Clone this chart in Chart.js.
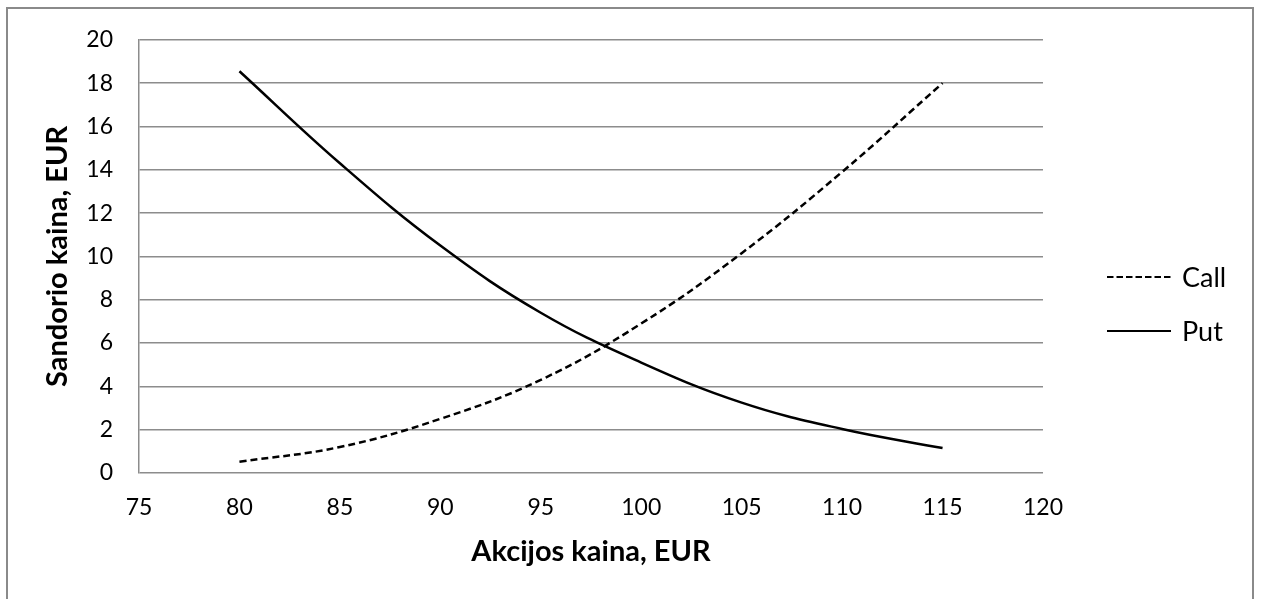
<!DOCTYPE html>
<html>
<head>
<meta charset="utf-8">
<script src="https://cdn.jsdelivr.net/npm/chart.js@4/dist/chart.umd.min.js"></script>
<style>
  html, body { margin: 0; padding: 0; background: #fff; overflow: hidden; }
  #frame {
    position: absolute; left: 6px; top: 7px; width: 1248px; height: 700px;
    border: 2px solid #8a8a8a; box-sizing: border-box;
  }
  #wrap { position: absolute; left: 0; top: 0; width: 1262px; height: 599px; }
</style>
</head>
<body>
<div id="frame"></div>
<div id="wrap"><canvas id="c" width="1262" height="599"></canvas></div>
<script>
// Stock price (EUR) and option prices (EUR)
const stockPrices = [80, 85, 90, 95, 100, 105, 110, 115];
const callPrices  = [0.52, 1.2, 2.5, 4.3, 6.9, 10.15, 13.9, 18.0];
const putPrices   = [18.55, 14.3, 10.5, 7.4, 5.1, 3.25, 2.03, 1.15];
const seriesNames = ['Call', 'Put'];

const xTitle = 'Akcijos kaina, EUR';
const yTitle = 'Sandorio kaina, EUR';

const FONT = 'Lato, "Liberation Sans", sans-serif';
const GRID = '#8c8c8c';

const toPoints = vals => stockPrices.map((x, i) => ({ x: x, y: vals[i] }));

// Legend drawn to the right of the plot, reusing each dataset's line style
const sideLegend = {
  id: 'sideLegend',
  afterDraw(chart) {
    const ctx = chart.ctx;
    const rows = [277, 331];
    chart.data.datasets.forEach((ds, i) => {
      const y = rows[i];
      ctx.save();
      ctx.strokeStyle = ds.borderColor;
      ctx.lineWidth = 2;
      ctx.setLineDash(ds.borderDash && ds.borderDash.length ? [6.5, 3] : []);
      ctx.beginPath();
      ctx.moveTo(1107, y);
      ctx.lineTo(1171, y);
      ctx.stroke();
      ctx.setLineDash([]);
      ctx.fillStyle = '#000';
      ctx.font = '27px ' + FONT;
      ctx.textBaseline = 'middle';
      ctx.textAlign = 'left';
      ctx.fillText(ds.label, 1182, y + 1);
      ctx.restore();
    });
  }
};

new Chart(document.getElementById('c'), {
  type: 'line',
  data: {
    datasets: [
      {
        label: seriesNames[0],
        data: toPoints(callPrices),
        borderColor: '#000',
        borderWidth: 2.5,
        borderDash: [7, 4],
        pointRadius: 0,
        tension: 0.4,
        fill: false
      },
      {
        label: seriesNames[1],
        data: toPoints(putPrices),
        borderColor: '#000',
        borderWidth: 2.5,
        pointRadius: 0,
        tension: 0.4,
        fill: false
      }
    ]
  },
  options: {
    responsive: false,
    animation: false,
    layout: { padding: { left: 0, top: 36, right: 219, bottom: 0 } },
    plugins: {
      legend: { display: false },
      tooltip: { enabled: false }
    },
    scales: {
      x: {
        type: 'linear',
        min: 75, max: 120,
        afterFit(scale) { scale.height = 126; },
        ticks: { stepSize: 5, color: '#000', padding: 21, font: { family: FONT, size: 23 } },
        grid: { display: false, drawTicks: false },
        border: { display: false },
        title: {
          display: true, text: xTitle, color: '#000',
          font: { family: FONT, size: 29, weight: 'bold' },
          padding: { top: 0, bottom: 30 }
        }
      },
      y: {
        min: 0, max: 20,
        afterFit(scale) { scale.width = 139; },
        ticks: { stepSize: 2, color: '#000', padding: 26, font: { family: FONT, size: 23 } },
        grid: { color: GRID, lineWidth: 1.5, drawTicks: false },
        border: { display: true, color: GRID, width: 1.5 },
        title: {
          display: true, text: yTitle, color: '#000',
          font: { family: FONT, size: 29, weight: 'bold' },
          padding: { top: 40, bottom: 0 }
        }
      }
    }
  },
  plugins: [sideLegend]
});
</script>
</body>
</html>
